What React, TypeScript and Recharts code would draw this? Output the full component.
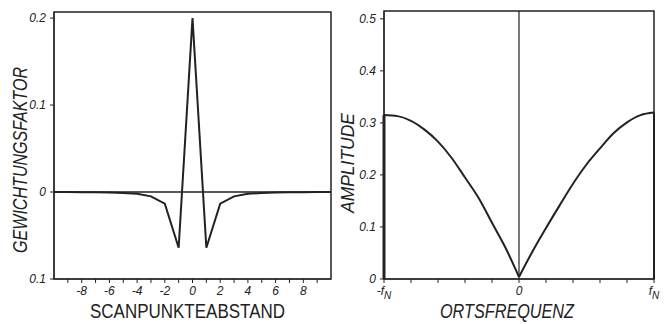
import React from "react";
import {
  LineChart,
  Line,
  XAxis,
  YAxis,
  ReferenceLine,
  ReferenceArea,
  Label,
} from "recharts";

// left panel: weighting factors per scan point distance
const SCAN_K = [-10, -9, -8, -7, -6, -5, -4, -3, -2, -1, 0, 1, 2, 3, 4, 5, 6, 7, 8, 9, 10];
const WEIGHTS = [
  0, -0.0001, -0.0002, -0.0003, -0.0006, -0.001, -0.002, -0.005, -0.0134, -0.064, 0.2,
  -0.064, -0.0134, -0.005, -0.002, -0.001, -0.0006, -0.0003, -0.0002, -0.0001, 0,
];
const SCAN_TICKS = [-9, -8, -7, -6, -5, -4, -3, -2, -1, 0, 1, 2, 3, 4, 5, 6, 7, 8, 9];
const WEIGHT_TICKS = [-0.1, 0, 0.1, 0.2];

// right panel: amplitude over spatial frequency
const FREQ_NEG = [-1, -0.9, -0.8, -0.7, -0.6, -0.5, -0.4, -0.3, -0.2, -0.1, 0];
const AMP_NEG = [0.315, 0.313, 0.304, 0.287, 0.264, 0.233, 0.195, 0.156, 0.108, 0.06, 0.004];
const FREQ_POS = [0, 0.1, 0.2, 0.3, 0.4, 0.5, 0.6, 0.7, 0.8, 0.9, 1];
const AMP_POS = [0.004, 0.053, 0.098, 0.141, 0.183, 0.22, 0.251, 0.28, 0.301, 0.315, 0.32];
const EDGE_NEG_F = [-1, -1];
const EDGE_NEG_A = [0, 0.315];
const EDGE_POS_F = [1, 1];
const EDGE_POS_A = [0.32, 0];
const FREQ_TICKS = [-1, -0.8, -0.6, -0.4, -0.2, 0, 0.2, 0.4, 0.6, 0.8, 1];
const AMP_TICKS = [0, 0.1, 0.2, 0.3, 0.4, 0.5];

const INK = "#222";
const FONT = "'Liberation Sans', Arial, sans-serif";

const scanData = SCAN_K.map((k, i) => ({ k, w: WEIGHTS[i] }));
const toRows = (fs: number[], as: number[]) => fs.map((f, i) => ({ f, a: as[i] }));

const ScanTick = (props: any) => {
  const { x, y, payload } = props;
  const v = payload.value;
  if (v % 2 !== 0) return null;
  return (
    <text x={x} y={y} dy="0.71em" textAnchor="middle" fontSize={12} fontStyle="italic" fill={INK} fontFamily={FONT}>
      {String(v)}
    </text>
  );
};

const FreqTick = (props: any) => {
  const { x, y, payload } = props;
  const v = payload.value;
  let body: React.ReactNode = null;
  if (v === 0) body = "0";
  else if (v === -1)
    body = (
      <>
        {"-f"}
        <tspan dy={4} fontSize={10}>N</tspan>
      </>
    );
  else if (v === 1)
    body = (
      <>
        {"f"}
        <tspan dy={4} fontSize={10}>N</tspan>
      </>
    );
  if (body === null) return null;
  return (
    <text x={x} y={y} dy="0.71em" textAnchor="middle" fontSize={12} fontStyle="italic" fill={INK} fontFamily={FONT}>
      {body}
    </text>
  );
};

const YTick = (props: any) => {
  const { x, y, payload, fmt } = props;
  return (
    <text x={x} y={y} dy="0.35em" textAnchor="end" fontSize={12} fontStyle="italic" fill={INK} fontFamily={FONT}>
      {fmt(payload.value)}
    </text>
  );
};

function ScanChart() {
  return (
    <LineChart
      width={332}
      height={324}
      data={scanData}
      margin={{ top: 12, right: 1, bottom: 15, left: 14 }}
    >
      <XAxis
        dataKey="k"
        type="number"
        domain={[-10, 10]}
        ticks={SCAN_TICKS}
        interval={0}
        height={30}
        tickSize={4}
        tickMargin={3}
        stroke={INK}
        tick={<ScanTick />}
      >
        <Label
          content={(p: any) => (
            <text
              x={p.viewBox.x + p.viewBox.width / 2 - 5}
              y={318}
              textAnchor="middle"
              fontSize={20}
              fill={INK}
              fontFamily={FONT}
              textLength={195}
              lengthAdjust="spacingAndGlyphs"
            >
              SCANPUNKTEABSTAND
            </text>
          )}
        />
      </XAxis>
      <YAxis
        type="number"
        domain={[-0.1, 0.207]}
        ticks={WEIGHT_TICKS}
        width={40}
        tickSize={4}
        tickMargin={4}
        stroke={INK}
        tick={<YTick fmt={(v: number) => String(Math.abs(v))} />}
      >
        <Label
          content={() => (
            <text
              x={27}
              y={160}
              transform="rotate(-90 27 160)"
              textAnchor="middle"
              fontSize={20}
              fontStyle="italic"
              fill={INK}
              fontFamily={FONT}
              textLength={186}
              lengthAdjust="spacingAndGlyphs"
            >
              GEWICHTUNGSFAKTOR
            </text>
          )}
        />
      </YAxis>
      <ReferenceArea x1={-10} x2={10} y1={-0.1} y2={0.207} fill="none" stroke={INK} strokeWidth={1.5} />
      <ReferenceLine y={0} stroke={INK} strokeWidth={1.5} />
      <Line
        dataKey="w"
        type="linear"
        stroke={INK}
        strokeWidth={2}
        dot={false}
        isAnimationActive={false}
      />
    </LineChart>
  );
}

function FreqChart() {
  return (
    <LineChart width={332} height={324} margin={{ top: 11, right: 10, bottom: 15, left: 12 }}>
      <XAxis
        dataKey="f"
        type="number"
        domain={[-1, 1]}
        ticks={FREQ_TICKS}
        interval={0}
        height={30}
        tickSize={4}
        tickMargin={3}
        stroke={INK}
        allowDuplicatedCategory={false}
        tick={<FreqTick />}
      >
        <Label
          content={(p: any) => (
            <text
              x={p.viewBox.x + p.viewBox.width / 2 - 12}
              y={318}
              textAnchor="middle"
              fontSize={20}
              fontStyle="italic"
              fill={INK}
              fontFamily={FONT}
              textLength={134}
              lengthAdjust="spacingAndGlyphs"
            >
              ORTSFREQUENZ
            </text>
          )}
        />
      </XAxis>
      <YAxis
        type="number"
        domain={[0, 0.515]}
        ticks={AMP_TICKS}
        width={40}
        tickSize={4}
        tickMargin={4}
        stroke={INK}
        tick={<YTick fmt={(v: number) => String(v)} />}
      >
        <Label
          content={() => (
            <text
              x={22}
              y={163}
              transform="rotate(-90 22 163)"
              textAnchor="middle"
              fontSize={19}
              fontStyle="italic"
              fill={INK}
              fontFamily={FONT}
              textLength={100}
              lengthAdjust="spacingAndGlyphs"
            >
              AMPLITUDE
            </text>
          )}
        />
      </YAxis>
      <ReferenceArea x1={-1} x2={1} y1={0} y2={0.515} fill="none" stroke={INK} strokeWidth={1.5} />
      <ReferenceLine x={0} stroke={INK} strokeWidth={1.2} />
      <Line data={toRows(FREQ_NEG, AMP_NEG)} dataKey="a" type="monotone" stroke={INK} strokeWidth={2} dot={false} isAnimationActive={false} />
      <Line data={toRows(FREQ_POS, AMP_POS)} dataKey="a" type="monotone" stroke={INK} strokeWidth={2} dot={false} isAnimationActive={false} />
      <Line data={toRows(EDGE_NEG_F, EDGE_NEG_A)} dataKey="a" type="linear" stroke={INK} strokeWidth={3} dot={false} isAnimationActive={false} />
      <Line data={toRows(EDGE_POS_F, EDGE_POS_A)} dataKey="a" type="linear" stroke={INK} strokeWidth={2} dot={false} isAnimationActive={false} />
    </LineChart>
  );
}

export default function App() {
  return (
    <div style={{ position: "absolute", left: 0, top: 0, width: 664, height: 324, background: "#fff", overflow: "hidden" }}>
      <div style={{ position: "absolute", left: 0, top: 0 }}>
        <ScanChart />
      </div>
      <div style={{ position: "absolute", left: 332, top: 0 }}>
        <FreqChart />
      </div>
    </div>
  );
}
